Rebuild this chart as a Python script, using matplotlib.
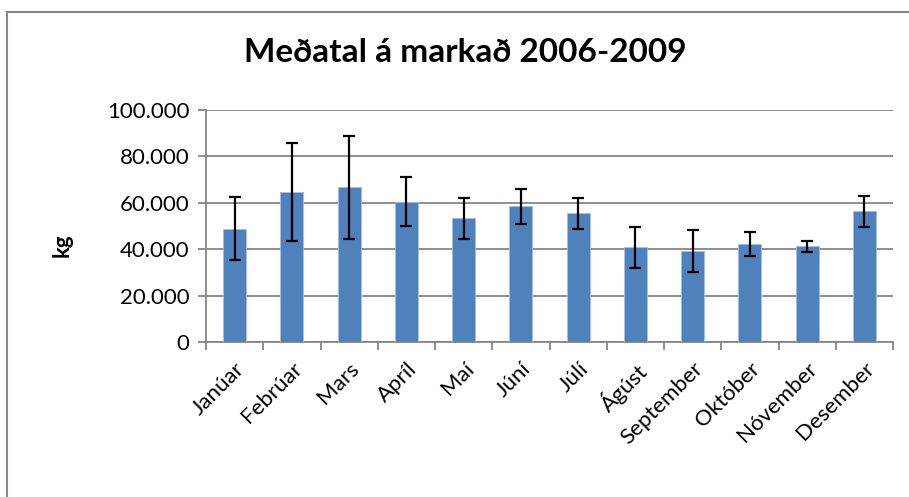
import matplotlib
matplotlib.use("Agg")
import matplotlib.pyplot as plt
import matplotlib.patches as patches
from matplotlib.ticker import FuncFormatter, FixedLocator, NullFormatter
import numpy as np

months = ["Janúar", "Febrúar", "Mars", "Apríl", "Maí", "Júní", "Júlí",
          "Ágúst", "September", "Október", "Nóvember", "Desember"]
means = [48900, 64700, 66700, 60500, 53300, 58500, 55500,
         40800, 39200, 42200, 41200, 56300]
errors = [13400, 21100, 22200, 10700, 8900, 7600, 6600,
          8800, 8900, 5300, 2200, 6800]
yticks = [0, 20000, 40000, 60000, 80000, 100000]
title = "Meðatal á markað 2006-2009"
ylabel = "kg"

plt.rcParams['font.family'] = ['Lato', 'DejaVu Sans']

fig = plt.figure(figsize=(9.09, 4.97), dpi=100)
ax = fig.add_axes([206/909, 1-342/497, (893-206)/909, (342-110)/497])

x = np.arange(len(months))
ax.bar(x, means, width=0.4, color="#4F81BD", edgecolor="#A7C0DE", linewidth=0.6, zorder=3)
ax.errorbar(x, means, yerr=errors, fmt="none", ecolor="black", elinewidth=1.6,
            capsize=4, capthick=1.6, zorder=4)

ax.set_xlim(-0.5, len(months)-0.5)
ax.set_ylim(0, 100000)
ax.set_yticks(yticks)
ax.yaxis.set_major_formatter(FuncFormatter(lambda v, p: f"{int(v):,}".replace(",", ".")))
ax.grid(axis="y", color="#868686", linewidth=1.3, zorder=0)

ax.set_xticks(x)
ax.set_xticklabels(months, rotation=45, ha="right", rotation_mode="anchor", fontsize=16)
ax.tick_params(axis="x", length=0, pad=12)
ax.xaxis.set_minor_locator(FixedLocator(np.arange(-0.5, len(months), 1.0)))
ax.xaxis.set_minor_formatter(NullFormatter())
ax.tick_params(axis="x", which="minor", length=6, color="#868686", width=1.3)
ax.tick_params(axis="y", length=6, color="#868686", width=1.3, labelsize=16, pad=6)

for s in ["top", "right"]:
    ax.spines[s].set_visible(False)
for s in ["left", "bottom"]:
    ax.spines[s].set_color("#868686")
    ax.spines[s].set_linewidth(1.3)

fig.text(465/909, 1-52/497, title, ha="center", va="center", fontsize=24, fontweight="bold")
fig.text(62/909, 1-245/497, ylabel, ha="center", va="center", rotation=90,
         fontsize=16, fontweight="bold")

rect = patches.Rectangle((7/909, -0.1), 1.2, 1 - 12/497 + 0.1, transform=fig.transFigure,
                         fill=False, edgecolor="#888888", linewidth=1.5, clip_on=False)
fig.patches.append(rect)

fig.savefig("out.png", dpi=100)
